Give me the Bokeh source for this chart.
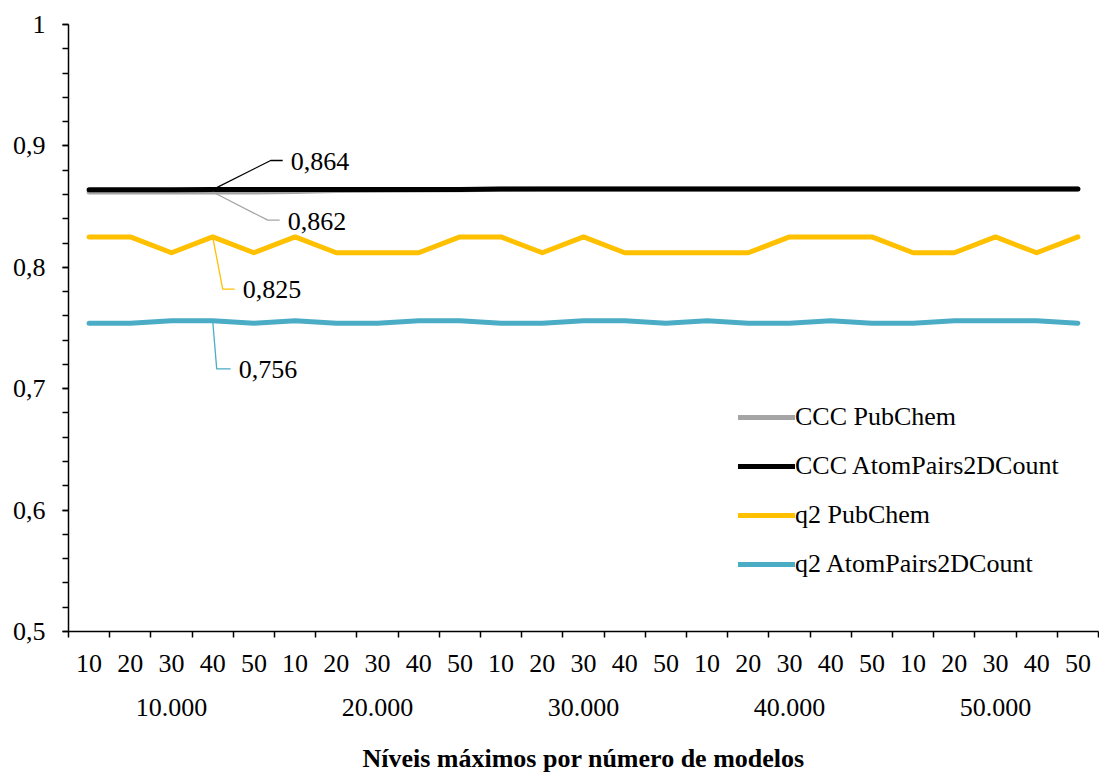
from bokeh.plotting import figure
from bokeh.models import (Range1d, LinearAxis, FixedTicker, CustomJSTickFormatter,
                          Legend, LegendItem, Label)
from bokeh.embed import file_html
from bokeh.resources import INLINE

FONT = "Liberation Serif"

# ---- data ----
levels = ["10", "20", "30", "40", "50"]
groups = ["10.000", "20.000", "30.000", "40.000", "50.000"]
level_labels = levels * 5

ccc_pubchem = [0.862, 0.862, 0.862, 0.862, 0.862, 0.8625, 0.8632, 0.8635, 0.8636, 0.8638,
               0.8642, 0.8644, 0.8644, 0.8644, 0.8644, 0.8644, 0.8644, 0.8644, 0.8644, 0.8644,
               0.8644, 0.8644, 0.8644, 0.8644, 0.8644]
ccc_atompairs = [0.8638, 0.8638, 0.8638, 0.864, 0.864, 0.864, 0.864, 0.864, 0.864, 0.864,
                 0.8645, 0.8645, 0.8645, 0.8645, 0.8645, 0.8645, 0.8645, 0.8645, 0.8645, 0.8645,
                 0.8645, 0.8645, 0.8645, 0.8645, 0.8645]
q2_pubchem = [0.825, 0.825, 0.812, 0.825, 0.812, 0.825, 0.812, 0.812, 0.812, 0.825,
              0.825, 0.812, 0.825, 0.812, 0.812, 0.812, 0.812, 0.825, 0.825, 0.825,
              0.812, 0.812, 0.825, 0.812, 0.825]
q2_atompairs = [0.754, 0.754, 0.756, 0.756, 0.754, 0.756, 0.754, 0.754, 0.756, 0.756,
                0.754, 0.754, 0.756, 0.756, 0.754, 0.756, 0.754, 0.754, 0.756, 0.754,
                0.754, 0.756, 0.756, 0.756, 0.754]

series_names = ["CCC PubChem", "CCC AtomPairs2DCount", "q2 PubChem", "q2 AtomPairs2DCount"]
series_vals = [ccc_pubchem, ccc_atompairs, q2_pubchem, q2_atompairs]
series_colors = ["#A5A5A5", "#000000", "#FFC000", "#4BACC6"]
label_texts = ["0,862", "0,864", "0,825", "0,756"]
label_index = 3

y_major = [0.5, 0.6, 0.7, 0.8, 0.9, 1.0]
y_minor = [0.5 + 0.02 * k for k in range(26)]

N = len(level_labels)
xs = [i + 0.5 for i in range(N)]

W, H = 1099, 775
BL, BR, BT = 68, 1, 24

p = figure(width=W, height=H, output_backend="svg", toolbar_location=None,
           x_range=Range1d(0, N), y_range=Range1d(0.5, 1.0),
           x_axis_location=None, y_axis_location=None,
           min_border_left=BL, min_border_right=BR, min_border_top=BT, min_border_bottom=0)
p.outline_line_color = None
p.xgrid.visible = False
p.ygrid.visible = False
p.background_fill_color = "white"
p.border_fill_color = "white"

# y axis
yax = LinearAxis(ticker=FixedTicker(ticks=y_major, minor_ticks=y_minor),
                 formatter=CustomJSTickFormatter(code="""
                    if (Math.abs(tick - 1) < 1e-9) return "1";
                    return tick.toFixed(1).replace(".", ",");"""))
yax.axis_line_color = "black"
yax.axis_line_width = 1.5
yax.major_tick_in = 0
yax.major_tick_out = 6
yax.minor_tick_in = 0
yax.minor_tick_out = 6
yax.major_tick_line_width = 1.5
yax.minor_tick_line_width = 1.5
yax.major_label_standoff = 17
yax.major_label_text_font = FONT
yax.major_label_text_font_size = "26px"
yax.major_label_text_color = "black"
p.add_layout(yax, "left")

# x axis 1: boundary ticks
xax1 = LinearAxis(ticker=FixedTicker(ticks=list(range(N + 1)), minor_ticks=[]),
                  formatter=CustomJSTickFormatter(code="return '';"))
xax1.axis_line_color = "black"
xax1.axis_line_width = 1.5
xax1.major_tick_in = 0
xax1.major_tick_out = 6
xax1.major_tick_line_width = 1.5
xax1.major_label_text_font_size = "0px"
xax1.major_label_standoff = 0
p.add_layout(xax1, "below")

# x axis 2: level labels
xax2 = LinearAxis(ticker=FixedTicker(ticks=xs, minor_ticks=[]),
                  formatter=CustomJSTickFormatter(args=dict(labels=level_labels),
                                                  code="return labels[Math.floor(tick)];"))
xax2.axis_line_color = None
xax2.major_tick_line_color = None
xax2.major_tick_in = 0
xax2.major_tick_out = 0
xax2.major_label_standoff = 17
xax2.major_label_text_font = FONT
xax2.major_label_text_font_size = "26px"
xax2.major_label_text_color = "black"
p.add_layout(xax2, "below")

# x axis 3: group labels + title
gticks = [5 * g + 2.5 for g in range(len(groups))]
xax3 = LinearAxis(ticker=FixedTicker(ticks=gticks, minor_ticks=[]),
                  formatter=CustomJSTickFormatter(args=dict(groups=groups),
                                                  code="return groups[Math.floor(tick / 5)];"))
xax3.axis_line_color = None
xax3.major_tick_line_color = None
xax3.major_tick_in = 0
xax3.major_tick_out = 0
xax3.major_label_standoff = 24
xax3.major_label_text_font = FONT
xax3.major_label_text_font_size = "26px"
xax3.major_label_text_color = "black"
xax3.axis_label = "Níveis máximos por número de modelos"
xax3.axis_label_text_font = FONT
xax3.axis_label_text_font_size = "26px"
xax3.axis_label_text_font_style = "bold"
xax3.axis_label_text_color = "black"
xax3.axis_label_standoff = 25
p.add_layout(xax3, "below")

# lines
items = []
for name, vals, col in zip(series_names, series_vals, series_colors):
    r = p.line(xs, vals, line_color=col, line_width=5, line_cap="round", line_join="round")
    items.append(LegendItem(label=name, renderers=[r]))

# data labels with leader lines (offsets in screen px converted to data units)
FW = W - BL - BR
FH = 605
dxp = N / FW
dyp = 0.5 / FH
# (leader dx1, dy1, dx2, text dx, text dy) in px, up = positive
leaders = [(55, -28, 67, 75, -29),
           (58, 29, 70, 78, 28),
           (10, -52, 22, 30, -53),
           (4, -48, 18, 26, -49)]
for vals, col, txt, (a, b, c, tx, ty) in zip(series_vals, series_colors, label_texts, leaders):
    x0 = xs[label_index]
    y0 = vals[label_index]
    p.line([x0, x0 + a * dxp, x0 + c * dxp], [y0, y0 + b * dyp, y0 + b * dyp],
           line_color=col, line_width=1.3)
    p.add_layout(Label(x=x0, y=y0, x_offset=tx, y_offset=ty, text=txt,
                       text_font=FONT, text_font_size="26px", text_color="black",
                       text_baseline="middle", text_align="left"))

legend = Legend(items=items, location=(670, 52), orientation="vertical")
legend.border_line_color = None
legend.background_fill_alpha = 0
legend.padding = 0
legend.margin = 0
legend.spacing = 19
legend.glyph_width = 57
legend.glyph_height = 30
legend.label_height = 30
legend.label_standoff = 0
legend.label_text_font = FONT
legend.label_text_font_size = "26px"
legend.label_text_color = "black"
p.add_layout(legend)

open("out.html", "w").write(file_html(p, INLINE))
